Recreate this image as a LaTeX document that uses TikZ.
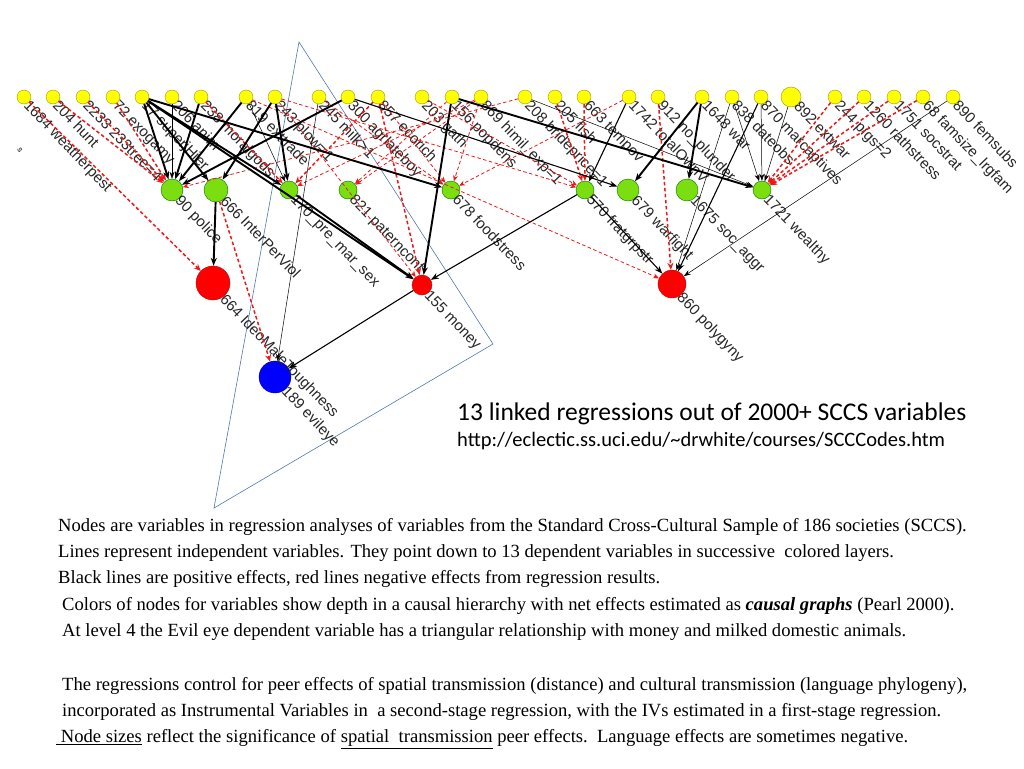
\documentclass[tikz,border=0pt]{standalone}
\usepackage{fontspec}
\setmainfont{Liberation Serif}
\setsansfont{Liberation Sans}
\newfontfamily\calibri{Carlito}
\usetikzlibrary{arrows.meta}
\usetikzlibrary{calc}

\definecolor{topfill}{RGB}{255,255,0}
\definecolor{topline}{RGB}{150,150,20}
\definecolor{lvlgreen}{RGB}{122,222,16}
\definecolor{negred}{RGB}{235,25,25}
\definecolor{triblue}{RGB}{80,120,175}

\begin{document}
\begin{tikzpicture}[x=1pt,y=-1pt,
    top/.style={circle,draw=topline,fill=topfill,minimum size=14pt,inner sep=0pt,line width=0.4pt},
    lvlone/.style={circle,draw=green!45!black,fill=lvlgreen,inner sep=0pt,line width=0.4pt},
    lvltwo/.style={circle,draw=red!75!black,fill=red,inner sep=0pt,line width=0.4pt},
    lvlfour/.style={circle,draw=blue!60!black,fill=blue,inner sep=0pt,line width=0.4pt},
    lbl/.style={rotate=-46,anchor=north west,inner sep=0pt,font=\sffamily\fontsize{15}{16}\selectfont,text=black!85},
    pthick/.style={draw=black,line width=1.9pt,-{Stealth[length=8pt,width=6pt]}},
    pmed/.style={draw=black,line width=1.1pt,-{Stealth[length=8pt,width=6pt]}},
    pthin/.style={draw=black,line width=0.5pt,-{Stealth[length=7pt,width=5pt]}},
    nthick/.style={draw=negred,line width=1.5pt,dash pattern=on 3.5pt off 2.5pt,-{Stealth[length=7pt,width=6pt]}},
    nthin/.style={draw=negred,line width=0.8pt,dash pattern=on 3.5pt off 2.5pt,-{Stealth[length=6pt,width=5pt]}},
    note/.style={anchor=west,inner sep=0pt,font=\fontsize{18.6}{19}\selectfont}
  ]
  \useasboundingbox (0,0) rectangle (1024,768);

  % triangle money - milk - evil eye
  \draw[triblue,line width=0.6pt] (299,42) -- (493,344) -- (214,508) -- cycle;

  % top layer: independent variables
  \foreach \n/\x/\t in {v1684/24/1684 weatherpest, v204/53/204 hunt, v2233/83/2233 233tree=4,
      v72/113/72 exogamy, v17/142/17 superjHier, v206/172/206 anim, v238/201/238 moralgods,
      v819/246/819 exttrade, v243/275/243 plow=1, v245/319/245 milk>1, v300/348/300 agrlateboy,
      v857/378/857 ecorich, v203/422/203 gath, v156/452/156 popdens, v869/481/869 himil\_exp=1,
      v208/525/208 brideprice=1, v205/555/205 fish, v663/584/663 tempov, v1742/629/1742 totalOwnV,
      v912/658/912 no\_plunder, v1648/702/1648 war, v838/732/838 dateobs, v870/761/870 marcaptives,
      v244/835/244 pigs=2, v1260/864/1260 rathstress, v1751/894/1751 socstrat,
      v68/923/68 famsize\_lrgfam, v890/953/890 femsubs} {
    \node[top] (\n) at (\x,97) {};
    \node[lbl] (\n-l) at (\n.-15) {\t};
  }
  \node[top,minimum size=20pt] (v892) at (791,97) {};
  \node[lbl] (v892-l) at (v892.-15) {892 extwar};
  \node[rotate=-60,inner sep=0pt,font=\sffamily\fontsize{8}{8}\selectfont] (stray) at (20,150) {s};

  % level 1
  \foreach \n/\x/\d/\t in {police/172/22/90 police, interper/216/24/666 InterPerViol,
      premar/289/18/170\_pre\_mar\_sex, paterncf/348/18/821 paternconf, foodstr/451/18/678 foodstress,
      fratgrp/585/18/570 fratgrpstr, warfight/628/22/679 warfight, socaggr/687/22/1675 soc\_aggr,
      wealthy/762/18/1721 wealthy} {
    \node[lvlone,minimum size=\d pt] (\n) at (\x,190) {};
    \node[lbl] (\n-l) at (\n.-20) {\t};
  }

  % levels 2 to 4
  \node[lvltwo,minimum size=34pt] (ideomale) at (213,283) {};
  \node[lvltwo,minimum size=20pt] (money) at (422,285) {};
  \node[lvltwo,minimum size=28pt] (polygyny) at (672,284) {};
  \node[lvlfour,minimum size=32pt] (evileye) at (275,377) {};
  \node[lbl] (ideomale-l) at (ideomale.-35) {664 IdeoMaleToughness};
  \node[lbl] (money-l) at (money.-25) {155 money};
  \node[lbl] (polygyny-l) at (polygyny.-30) {860 polygyny};
  \node[lbl] (evileye-l) at (evileye.-30) {189 evileye};

  % negative effects
  \foreach \a/\b in {v1684/ideomale, v204/police, v2233/police, v72/police, v238/premar,
      v857/premar, v912/polygyny, v244/wealthy, v1260/wealthy, v1751/wealthy, v68/wealthy,
      v205/fratgrp, v663/fratgrp, interper/evileye, v857/money}
    \draw[nthick] (\a) -- (\b);
  \foreach \a/\b in {v869/premar, v156/paterncf, v869/paterncf, v245/foodstr, v857/foodstr,
      v869/foodstr, v1742/foodstr, v243/money, v243/fratgrp, v203/fratgrp, v819/polygyny,
      v208/police}
    \draw[nthin] (\a) -- (\b);

  % positive effects
  \foreach \a/\b in {v17/police, v238/police, v819/police, v300/police, v17/interper,
      v243/interper, v243/premar, v17/premar, v17/foodstr, v156/wealthy, v1648/warfight,
      v1648/socaggr, v17/money, premar/money, v156/money, interper/ideomale}
    \draw[pthick] (\a) -- (\b);
  \foreach \a/\b in {v300/warfight, v1742/fratgrp, fratgrp/money, fratgrp/polygyny,
      v870/polygyny, money/evileye}
    \draw[pmed] (\a) -- (\b);
  \foreach \a/\b in {v206/police, v819/premar, v870/wealthy, v838/wealthy, v892/wealthy,
      v208/wealthy, v890/polygyny, v245/evileye, v838/polygyny}
    \draw[pthin] (\a) -- (\b);

  % headline
  \node[anchor=west,inner sep=0pt,font=\calibri\fontsize{25.5}{26}\selectfont] (title) at (457,414)
    {13 linked regressions out of 2000+ SCCS variables};
  \node[anchor=west,inner sep=0pt,font=\calibri\fontsize{20.5}{21}\selectfont] (url) at (457,441)
    {http://eclectic.ss.uci.edu/\textasciitilde drwhite/courses/SCCCodes.htm};

  % notes
  \node[note] (n1) at (58,527) {Nodes are variables in regression analyses of variables from the Standard Cross-Cultural Sample of 186 societies (SCCS).};
  \node[note] (n2) at (58,553) {Lines represent independent variables. They point down to 13 dependent variables in successive\ \ colored layers.};
  \node[note] (n3) at (58,579) {Black lines are positive effects, red lines negative effects from regression results.};
  \node[note] (n4) at (62,606) {Colors of nodes for variables show depth in a causal hierarchy with net effects estimated as \textbf{\textit{causal graphs}} (Pearl 2000).};
  \node[note] (n5) at (62,632) {At level 4 the Evil eye dependent variable has a triangular relationship with money and milked domestic animals.};
  \node[note] (n6) at (62,686) {The regressions control for peer effects of spatial transmission (distance) and cultural transmission (language phylogeny),};
  \node[note] (n7) at (62,712) {incorporated as Instrumental Variables in\ \ a second-stage regression, with the IVs estimated in a first-stage regression.};
  \node[note] (n8) at (56,739) {\underline{\ Node sizes} reflect the significance of \underline{spatial\ \ transmission} peer effects.\ \ Language effects are sometimes negative.};
\end{tikzpicture}
\end{document}
